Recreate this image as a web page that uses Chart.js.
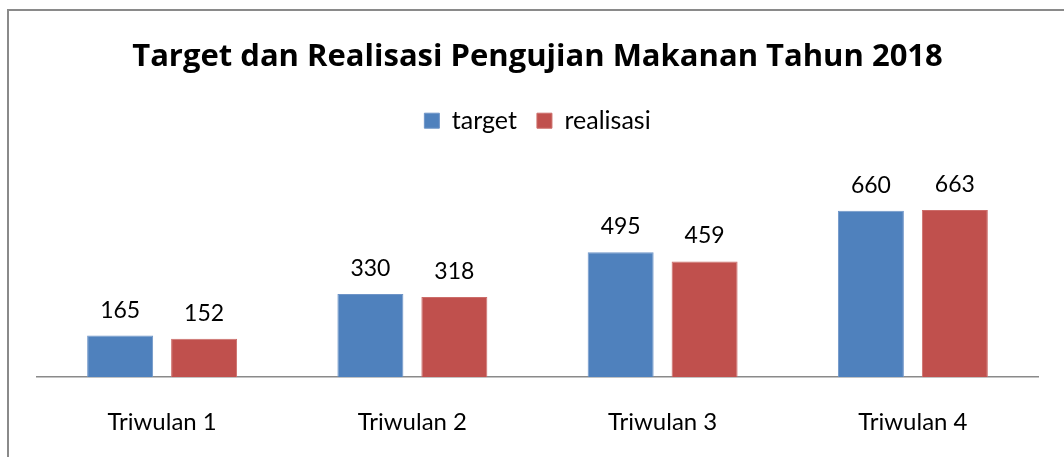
<!DOCTYPE html>
<html>
<head>
<meta charset="utf-8">
<script src="https://cdn.jsdelivr.net/npm/chart.js@4"></script>
<style>
  html, body { margin: 0; padding: 0; background: #ffffff; overflow: hidden; }
  #wrap { position: relative; width: 1064px; height: 457px; overflow: hidden; }
  #frame { position: absolute; left: 7px; top: 9px; width: 1100px; height: 500px;
           border: 2px solid #8a8a8a; box-sizing: border-box; pointer-events: none; }
  canvas { position: absolute; left: 0; top: 0; }
</style>
</head>
<body>
<div id="wrap">
  <canvas id="c" width="1064" height="468"></canvas>
  <div id="frame"></div>
</div>
<script>
const categories = ["Triwulan 1", "Triwulan 2", "Triwulan 3", "Triwulan 4"];
const targetValues = [165, 330, 495, 660];
const realisasiValues = [152, 318, 459, 663];
const seriesNames = ["target", "realisasi"];
const chartTitle = "Target dan Realisasi Pengujian Makanan Tahun 2018";

const FONT = "Lato, 'Open Sans', sans-serif";

const legendShift = {
  id: 'legendShift',
  beforeInit(chart) {
    const orig = chart.legend.fit;
    chart.legend.fit = function () {
      orig.call(this);
      this.height += 7;
    };
  }
};

const valueLabels = {
  id: 'valueLabels',
  afterDatasetsDraw(chart) {
    const ctx = chart.ctx;
    ctx.save();
    ctx.font = "23px " + FONT;
    ctx.fillStyle = "#000000";
    ctx.textAlign = "center";
    ctx.textBaseline = "alphabetic";
    chart.data.datasets.forEach((ds, di) => {
      const meta = chart.getDatasetMeta(di);
      meta.data.forEach((bar, i) => {
        ctx.fillText(String(ds.data[i]), bar.x, bar.y - 18);
      });
    });
    ctx.restore();
  }
};

new Chart(document.getElementById('c'), {
  type: 'bar',
  data: {
    labels: categories,
    datasets: [
      { label: seriesNames[0], data: targetValues, backgroundColor: '#4F81BD',
        borderColor: '#6f95c8', borderWidth: 1,
        categoryPercentage: 0.671, barPercentage: 0.786 },
      { label: seriesNames[1], data: realisasiValues, backgroundColor: '#C0504D',
        borderColor: '#cc6d6a', borderWidth: 1,
        categoryPercentage: 0.671, barPercentage: 0.786 }
    ]
  },
  options: {
    responsive: false,
    animation: false,
    devicePixelRatio: 1,
    layout: { padding: { left: 37, right: 26, top: 0, bottom: 0 } },
    plugins: {
      title: {
        display: true,
        text: chartTitle,
        color: '#000000',
        font: { family: "'Open Sans', Lato, sans-serif", size: 31, weight: 'bold' },
        padding: { top: 39, bottom: 12 }
      },
      legend: {
        display: true,
        position: 'top',
        labels: {
          color: '#000000',
          font: { family: FONT, size: 25 },
          boxWidth: 15,
          boxHeight: 15,
          padding: 20
        }
      },
      tooltip: { enabled: false }
    },
    scales: {
      x: {
        grid: { display: false, drawTicks: false },
        border: { display: true, color: '#8a8a8a', width: 1.5 },
        ticks: { color: '#000000', font: { family: FONT, size: 24 }, padding: 31 }
      },
      y: {
        display: false,
        min: 0,
        max: 900
      }
    }
  },
  plugins: [legendShift, valueLabels]
});
</script>
</body>
</html>
